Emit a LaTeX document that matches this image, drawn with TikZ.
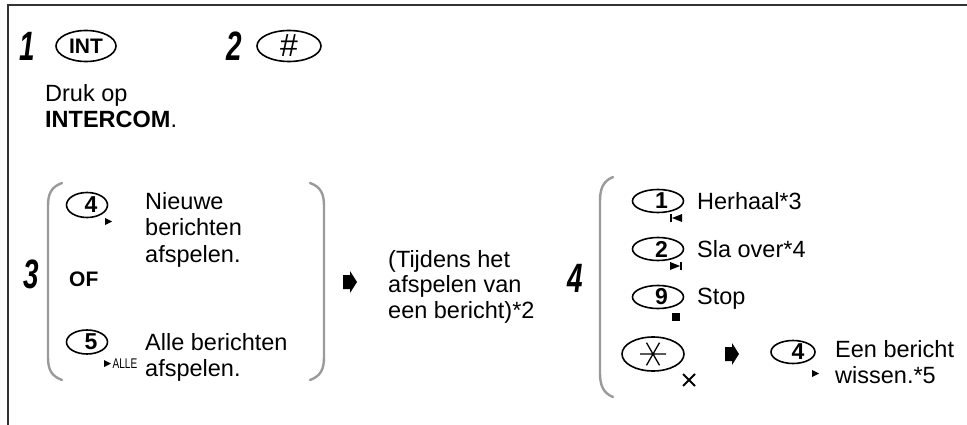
\documentclass[tikz,border=0pt]{standalone}
\usepackage{fontspec}
\usepackage{graphicx}
\setmainfont{Liberation Sans}
\usetikzlibrary{shapes.geometric}
\definecolor{brk}{HTML}{9A9A9A}
\definecolor{frm}{HTML}{333333}
\tikzset{fatarrow/.pic={\fill (-7,-7) -- (0,-7) -- (0,-11) -- (7,0) -- (0,11) -- (0,7) -- (-7,7) -- cycle;}}
\begin{document}
\begin{tikzpicture}[x=1pt,y=-1pt,
  txt/.style={anchor=north west,inner sep=0,align=left,font=\fontsize{23.5}{26.7}\selectfont},
  key/.style={ellipse,draw,line width=1.6pt,inner sep=0,font=\fontsize{23}{23}\selectfont\bfseries},
  stepno/.style={inner sep=0,font=\fontsize{41}{41}\selectfont\bfseries\itshape},
  bracket/.style={draw=brk,line width=2.4pt,line cap=round}]
\useasboundingbox (0,0) rectangle (967,425);
\draw[frm,line width=1.8pt] (8,425) -- (8,5) -- (967,5);
% steps 1 and 2
\node[stepno] (s1) at (27,46) {\scalebox{0.68}[1]{1}};
\node[key,minimum width=60,minimum height=31,font=\fontsize{21}{21}\selectfont\bfseries] (kint) at (86,46) {INT};
\node[txt] (druk) at (45,84) {Druk op\\\textbf{INTERCOM}.};
\node[stepno] (s2) at (234,46) {\scalebox{0.68}[1]{2}};
\node[key,minimum width=64,minimum height=31,font=\fontsize{32}{32}\selectfont] (khash) at (289,46) {\#};
% step 3
\node[stepno] (s3) at (31,274) {\scalebox{0.68}[1]{3}};
\draw[bracket] (62,183) .. controls (51,187) and (48,194) .. (48,206) -- (48,357) .. controls (48,369) and (51,376) .. (62,380);
\draw[bracket] (310,183) .. controls (321,187) and (324,194) .. (324,206) -- (324,357) .. controls (324,369) and (321,376) .. (310,380);
\node[key,minimum width=41,minimum height=25] (knew) at (87,205) {\kern8pt 4};
\fill (105,218) -- (112,221.5) -- (105,225) -- cycle;
\node[txt] (tnew) at (145,192) {Nieuwe\\berichten\\afspelen.};
\node[inner sep=0,anchor=north west,font=\fontsize{21}{21}\selectfont\bfseries] (of) at (69,272) {OF};
\node[key,minimum width=41,minimum height=24] (kall) at (87,342) {\kern8pt 5};
\fill (104,360) -- (111,363.5) -- (104,367) -- cycle;
\node[inner sep=0,font=\fontsize{14}{14}\selectfont] (alle) at (125,363.5) {\scalebox{0.72}[1]{ALLE}};
\node[txt] (tall) at (145,333) {Alle berichten\\afspelen.};
% while playing
\pic at (350,282) {fatarrow};
\node[txt,font=\fontsize{23.5}{25.5}\selectfont] (twhile) at (388,250) {(Tijdens het\\afspelen van\\een bericht)*2};
% step 4
\node[stepno] (s4) at (575,278) {\scalebox{0.68}[1]{4}};
\draw[bracket] (613,177) .. controls (603,181) and (600,189) .. (600,201) -- (600,373) .. controls (600,385) and (603,393) .. (613,397);
\node[key,minimum width=51,minimum height=23] (krep) at (658,201) {\kern7pt 1};
\fill (670,214) rectangle (671.8,222);
\fill (682,214) -- (672,218) -- (682,222) -- cycle;
\node[txt] (trep) at (697,192) {Herhaal*3};
\node[key,minimum width=51,minimum height=23] (kskip) at (658,249) {\kern7pt 2};
\fill (670,262) -- (680,266) -- (670,270) -- cycle;
\fill (680.2,262) rectangle (682,270);
\node[txt] (tskip) at (697,240) {Sla over*4};
\node[key,minimum width=51,minimum height=23] (kstop) at (658,297) {\kern7pt 9};
\fill (672,312.5) rectangle (680,320.5);
\node[txt] (tstop) at (697,288) {Stop};
\node[key,minimum width=62,minimum height=34] (kstar) at (653,354) {};
\draw[line width=1.3pt] (640,354) -- (666,354) (646.5,342.7) -- (659.5,365.3) (659.5,342.7) -- (646.5,365.3);
\draw[line width=1.8pt] (683,374) -- (695,386) (683,386) -- (695,374);
\pic at (732,354) {fatarrow};
\node[key,minimum width=44,minimum height=23] (kdel) at (793,352) {\kern10pt 4};
\fill (812,370) -- (819,373.5) -- (812,377) -- cycle;
\node[txt] (tdel) at (835,340) {Een bericht\\wissen.*5};
\end{tikzpicture}
\end{document}
